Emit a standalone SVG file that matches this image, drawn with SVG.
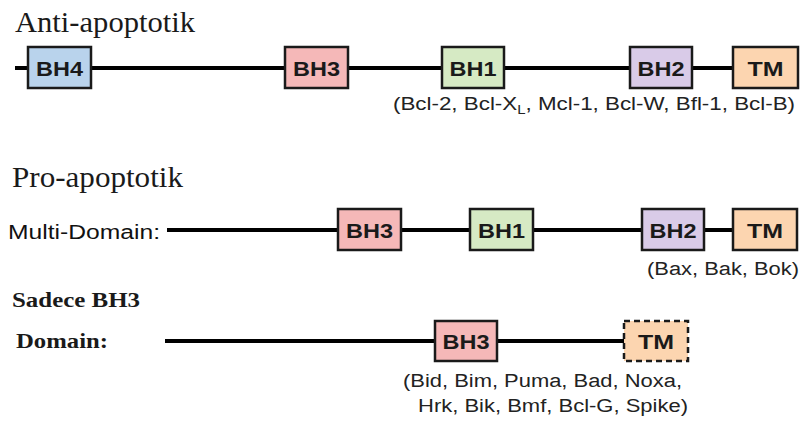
<svg xmlns="http://www.w3.org/2000/svg" width="803" height="421" viewBox="0 0 803 421">
<style>
.bg{fill:#ffffff}
.title{font-family:"Liberation Serif","Times New Roman",serif;font-size:29px;fill:#1a1a1a}
.btitle{font-family:"Liberation Serif","Times New Roman",serif;font-size:21px;font-weight:bold;fill:#1a1a1a}
.lbl{font-family:"Liberation Sans",Arial,sans-serif;font-size:18px;fill:#222222}
.box{stroke:#1a1a1a;stroke-width:2.5}
.dash{stroke:#1a1a1a;stroke-width:2.5;stroke-dasharray:6 4}
.bt{font-family:"Liberation Sans",Arial,sans-serif;font-size:21px;font-weight:bold;fill:#1a1a1a;text-anchor:middle}
.line{stroke:#000000;stroke-width:4;fill:none}
.bh4{fill:#b9d3ec}
.bh3{fill:#f5b8b8}
.bh1{fill:#d6eac4}
.bh2{fill:#d9cbe8}
.tm{fill:#fcd5b0}
</style>
<rect class="bg" x="0" y="0" width="803" height="421"/>

<g id="connectors">
  <line class="line" x1="15" y1="68" x2="733" y2="68"/>
  <line class="line" x1="167" y1="230" x2="733" y2="230"/>
  <line class="line" x1="165" y1="341" x2="624" y2="341"/>
</g>

<g id="labels">
  <text class="title" x="15" y="32" textLength="180" lengthAdjust="spacingAndGlyphs">Anti-apoptotik</text>
  <text class="title" x="12" y="187" textLength="171" lengthAdjust="spacingAndGlyphs">Pro-apoptotik</text>
  <text class="lbl" x="8" y="239" style="font-size:20px;fill:#111" textLength="152" lengthAdjust="spacingAndGlyphs">Multi-Domain:</text>
  <text class="btitle" x="12" y="307" textLength="128" lengthAdjust="spacingAndGlyphs">Sadece BH3</text>
  <text class="btitle" x="16" y="348" textLength="92" lengthAdjust="spacingAndGlyphs">Domain:</text>
  <text class="lbl" x="393" y="110" textLength="402" lengthAdjust="spacingAndGlyphs">(Bcl-2, Bcl-X<tspan style="font-size:12px" dy="4">L</tspan><tspan dy="-4">, Mcl-1, Bcl-W, Bfl-1, Bcl-B)</tspan></text>
  <text class="lbl" x="647" y="275" textLength="152" lengthAdjust="spacingAndGlyphs">(Bax, Bak, Bok)</text>
  <text class="lbl" x="403" y="387" textLength="279" lengthAdjust="spacingAndGlyphs">(Bid, Bim, Puma, Bad, Noxa,</text>
  <text class="lbl" x="418" y="412" textLength="270" lengthAdjust="spacingAndGlyphs">Hrk, Bik, Bmf, Bcl-G, Spike)</text>
</g>

<g id="anti-BH4"><rect class="box bh4" x="28" y="47" width="63" height="41"/><text class="bt" x="59.5" y="75.5" textLength="47" lengthAdjust="spacingAndGlyphs">BH4</text></g>
<g id="anti-BH3"><rect class="box bh3" x="285" y="47" width="63" height="41"/><text class="bt" x="316.5" y="75.5" textLength="47" lengthAdjust="spacingAndGlyphs">BH3</text></g>
<g id="anti-BH1"><rect class="box bh1" x="442" y="47" width="62" height="41"/><text class="bt" x="473" y="75.5" textLength="47" lengthAdjust="spacingAndGlyphs">BH1</text></g>
<g id="anti-BH2"><rect class="box bh2" x="630" y="47" width="62" height="41"/><text class="bt" x="661" y="75.5" textLength="47" lengthAdjust="spacingAndGlyphs">BH2</text></g>
<g id="anti-TM"><rect class="box tm" x="733" y="47" width="65" height="41"/><text class="bt" x="765.5" y="75.5" textLength="36" lengthAdjust="spacingAndGlyphs">TM</text></g>

<g id="multi-BH3"><rect class="box bh3" x="338" y="209" width="63" height="41"/><text class="bt" x="369.5" y="237.5" textLength="47" lengthAdjust="spacingAndGlyphs">BH3</text></g>
<g id="multi-BH1"><rect class="box bh1" x="470" y="209" width="63" height="41"/><text class="bt" x="501.5" y="237.5" textLength="47" lengthAdjust="spacingAndGlyphs">BH1</text></g>
<g id="multi-BH2"><rect class="box bh2" x="642" y="209" width="62" height="41"/><text class="bt" x="673" y="237.5" textLength="47" lengthAdjust="spacingAndGlyphs">BH2</text></g>
<g id="multi-TM"><rect class="box tm" x="733" y="209" width="64" height="41"/><text class="bt" x="765" y="237.5" textLength="36" lengthAdjust="spacingAndGlyphs">TM</text></g>

<g id="bh3only-BH3"><rect class="box bh3" x="435" y="321" width="62" height="40"/><text class="bt" x="466" y="348.5" textLength="47" lengthAdjust="spacingAndGlyphs">BH3</text></g>
<g id="bh3only-TM"><rect class="dash tm" x="624" y="321" width="64" height="40"/><text class="bt" x="656" y="348.5" textLength="36" lengthAdjust="spacingAndGlyphs">TM</text></g>
</svg>
